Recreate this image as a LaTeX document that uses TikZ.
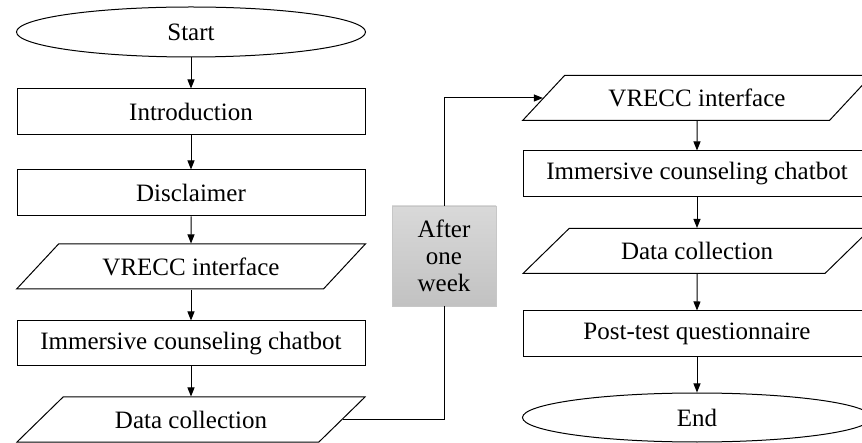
\documentclass[tikz,border=0pt]{standalone}
\usepackage{fontspec}
\setmainfont{Liberation Serif}
\usetikzlibrary{shapes.geometric,arrows.meta}

\tikzset{
  every node/.style={font=\fontsize{25}{27}\selectfont, inner sep=0pt},
  procbox/.style={draw, line width=1pt, rectangle, minimum width=348pt, minimum height=46pt},
  iobox/.style={draw, line width=1pt, trapezium, trapezium left angle=32.7,
    trapezium right angle=147.3, trapezium stretches=true,
    minimum width=349pt, minimum height=45pt},
  termbox/.style={draw, line width=1pt, ellipse, minimum width=349pt, minimum height=50pt},
  waitbox/.style={rectangle, draw=black!22, line width=0.8pt, top color=black!15,
    bottom color=black!24, minimum width=104pt, minimum height=100pt, align=center},
  flow/.style={line width=1pt, -{Triangle[length=9pt,width=7pt]}},
  link/.style={line width=1pt}
}

\begin{document}
\begin{tikzpicture}[x=1pt, y=-1pt]
  \useasboundingbox (0,0) rectangle (862,443);

  % first session
  \node[termbox] (start) at (191,32) {Start};
  \node[procbox] (intro) at (191,112) {Introduction};
  \node[procbox] (discl) at (191,193) {Disclaimer};
  \node[iobox]   (vr1)   at (191,266.5) {VRECC interface};
  \node[procbox, minimum height=45pt] (imm1) at (191,343.5) {Immersive counseling chatbot};
  \node[iobox]   (dc1)   at (191,419.5) {Data collection};

  % break between sessions
  \node[waitbox] (wait) at (444,256) {After\\one\\week};

  % second session
  \node[iobox]   (vr2)  at (697,98) {VRECC interface};
  \node[procbox] (imm2) at (697,174) {Immersive counseling chatbot};
  \node[iobox]   (dc2)  at (697,251) {Data collection};
  \node[procbox] (post) at (697,334) {Post-test questionnaire};
  \node[termbox, minimum height=49pt] (end) at (697,417.5) {End};

  \draw[flow] (start) -- (intro);
  \draw[flow] (intro) -- (discl);
  \draw[flow] (discl) -- (vr1);
  \draw[flow] (vr1) -- (imm1);
  \draw[flow] (imm1) -- (dc1);

  \draw[link] (dc1.east) -| (wait.south);
  \draw[flow] (wait.north) |- (vr2.west);

  \draw[flow] (vr2) -- (imm2);
  \draw[flow] (imm2) -- (dc2);
  \draw[flow] (dc2) -- (post);
  \draw[flow] (post) -- (end);
\end{tikzpicture}
\end{document}
